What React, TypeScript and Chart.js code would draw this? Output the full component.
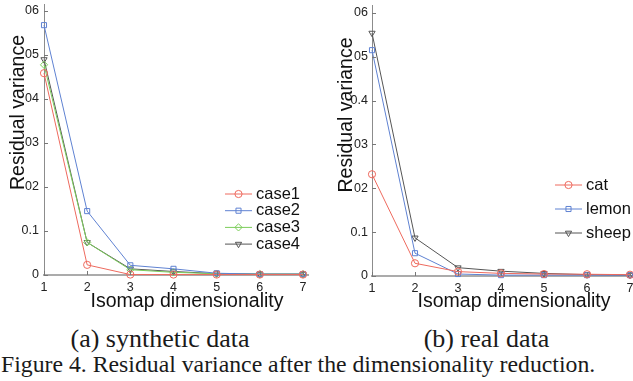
import React, { useEffect, useRef } from 'react';
import { Chart, registerables } from 'chart.js';
import { drawPoint } from 'chart.js/helpers';

Chart.register(...registerables);

// ---------- data ----------
const xValues = [1, 2, 3, 4, 5, 6, 7];
const xTickLabels = ['1', '2', '3', '4', '5', '6', '7'];
const yTickValues = [0, 0.1, 0.2, 0.3, 0.4, 0.5, 0.6];
const yTickLabelsA = ['0', '0.1', '02', '03', '04', '05', '06'];
const yTickLabelsB = ['0', '0.1', '02', '03', '0.4', '05', '06'];

const seriesNamesA = ['case1', 'case2', 'case3', 'case4'];
const case1 = [0.458, 0.023, 0.001, 0.001, 0.001, 0.001, 0.001];
const case2 = [0.567, 0.145, 0.022, 0.014, 0.004, 0.002, 0.002];
const case3 = [0.477, 0.074, 0.012, 0.006, 0.003, 0.002, 0.002];
const case4 = [0.489, 0.074, 0.014, 0.008, 0.003, 0.002, 0.002];

const seriesNamesB = ['cat', 'lemon', 'sheep'];
const cat = [0.232, 0.029, 0.01, 0.006, 0.0045, 0.004, 0.003];
const lemon = [0.515, 0.052, 0.0045, 0.002, 0.002, 0.002, 0.002];
const sheep = [0.554, 0.087, 0.019, 0.011, 0.006, 0.003, 0.002];

const xTitle = 'Isomap dimensionality';
const yTitle = 'Residual variance';
const captionA = '(a) synthetic data';
const captionB = '(b) real data';
const figureCaption = 'Figure 4. Residual variance after the dimensionality reduction.';

// ---------- styles ----------
const RED = '#ee6a5e';
const BLUE = '#5f82d2';
const GREEN = '#7ccd5a';
const DARK = '#555555';
const SANS = '"Liberation Sans", Arial, sans-serif';
const SERIF = '"Liberation Serif", "Times New Roman", serif';

type Style = { color: string; pointStyle: string; rotation: number };
const styleCircle = (c: string): Style => ({ color: c, pointStyle: 'circle', rotation: 0 });
const styleSquare = (c: string): Style => ({ color: c, pointStyle: 'rect', rotation: 0 });
const styleDiamond = (c: string): Style => ({ color: c, pointStyle: 'rectRot', rotation: 0 });
const styleTriDown = (c: string): Style => ({ color: c, pointStyle: 'triangle', rotation: 180 });

function makeDataset(label: string, values: number[], st: Style) {
  return {
    label,
    data: xValues.map((x, i) => ({ x, y: values[i] })),
    borderColor: st.color,
    backgroundColor: 'rgba(0,0,0,0)',
    borderWidth: 1,
    pointStyle: st.pointStyle,
    pointRotation: st.rotation,
    pointRadius: 3.6,
    pointBorderWidth: 1,
    pointBorderColor: st.color,
    pointBackgroundColor: 'rgba(0,0,0,0)',
    fill: false,
    tension: 0,
    clip: false,
  };
}

const decorPlugin = {
  id: 'figureDecor',
  afterDraw(chart: any, _args: any, opts: any) {
    const ctx: CanvasRenderingContext2D = chart.ctx;
    const xs = chart.scales.x;
    const ys = chart.scales.y;
    const area = chart.chartArea;
    ctx.save();
    // inward tick marks
    ctx.strokeStyle = opts.tickColor;
    ctx.lineWidth = 1;
    ys.ticks.forEach((t: any) => {
      const y = Math.round(ys.getPixelForValue(t.value)) + 0.5;
      ctx.beginPath();
      ctx.moveTo(area.left, y);
      ctx.lineTo(area.left + opts.tickLen, y);
      ctx.stroke();
    });
    xs.ticks.forEach((t: any) => {
      const x = Math.round(xs.getPixelForValue(t.value)) + 0.5;
      ctx.beginPath();
      ctx.moveTo(x, area.bottom);
      ctx.lineTo(x, area.bottom - opts.tickLen);
      ctx.stroke();
    });
    // axis titles
    ctx.fillStyle = opts.titleColor;
    ctx.font = `${opts.titleSize}px ${SANS}`;
    ctx.textAlign = 'center';
    ctx.textBaseline = 'alphabetic';
    ctx.fillText(opts.xTitleText, opts.xTitleX, opts.xTitleY);
    ctx.save();
    ctx.translate(opts.yTitleX, opts.yTitleY);
    ctx.rotate(-Math.PI / 2);
    ctx.fillText(opts.yTitleText, 0, 0);
    ctx.restore();
    // legend
    ctx.font = `${opts.legendSize}px ${SANS}`;
    ctx.textAlign = 'left';
    ctx.textBaseline = 'middle';
    chart.data.datasets.forEach((ds: any, i: number) => {
      const y = opts.legendY0 + i * opts.legendDy;
      const x0 = opts.legendX0;
      const x1 = x0 + opts.legendLineLen;
      ctx.strokeStyle = ds.borderColor;
      ctx.lineWidth = 1;
      ctx.beginPath();
      ctx.moveTo(x0, y);
      ctx.lineTo(x1, y);
      ctx.stroke();
      ctx.fillStyle = 'rgba(0,0,0,0)';
      drawPoint(ctx, { pointStyle: ds.pointStyle, rotation: ds.pointRotation, radius: ds.pointRadius, borderWidth: 1 } as any, (x0 + x1) / 2, y);
      ctx.fillStyle = opts.titleColor;
      ctx.fillText(ds.label, x1 + opts.legendGap, y);
    });
    ctx.restore();
  },
};

type Panel = {
  datasets: any[];
  yLabels: string[];
  yMax: number;
  xMax: number;
  yAxisWidth: number;
  yTickPad: number;
  padding: { top: number; right: number; bottom: number; left: number };
  decor: any;
};

function makeConfig(p: Panel): any {
  return {
    type: 'line',
    data: { datasets: p.datasets },
    plugins: [decorPlugin],
    options: {
      animation: false,
      responsive: false,
      events: [],
      layout: { padding: p.padding },
      plugins: {
        legend: { display: false },
        tooltip: { enabled: false },
        figureDecor: p.decor,
      },
      scales: {
        x: {
          type: 'linear',
          min: 1,
          max: p.xMax,
          afterBuildTicks: (s: any) => {
            s.ticks = xValues.map((v) => ({ value: v }));
          },
          afterFit: (s: any) => {
            s.height = 40;
          },
          grid: { display: false, drawTicks: false },
          border: { display: true, color: '#ababab', width: 2 },
          ticks: {
            autoSkip: false,
            maxRotation: 0,
            padding: 5,
            color: '#222',
            font: { family: SANS, size: 12.5 },
            callback: (_v: any, i: number) => xTickLabels[i],
          },
        },
        y: {
          type: 'linear',
          min: 0,
          max: p.yMax,
          afterBuildTicks: (s: any) => {
            s.ticks = yTickValues.map((v) => ({ value: v }));
          },
          afterFit: (s: any) => {
            s.width = p.yAxisWidth;
          },
          grid: { display: false, drawTicks: false },
          border: { display: true, color: '#8c8c8c', width: 1 },
          ticks: {
            padding: p.yTickPad,
            color: '#222',
            font: { family: SANS, size: 12.5 },
            callback: (_v: any, i: number) => p.yLabels[i],
          },
        },
      },
    },
  };
}

const panelA: Panel = {
  datasets: [
    makeDataset(seriesNamesA[0], case1, styleCircle(RED)),
    makeDataset(seriesNamesA[1], case2, styleSquare(BLUE)),
    makeDataset(seriesNamesA[2], case3, styleDiamond(GREEN)),
    makeDataset(seriesNamesA[3], case4, styleTriDown(DARK)),
  ],
  yLabels: yTickLabelsA,
  yMax: 0.615,
  xMax: 7.116,
  yAxisWidth: 44,
  yTickPad: 5,
  padding: { top: 14, right: 12, bottom: 0, left: 0 },
  decor: {
    tickColor: '#777',
    tickLen: 4,
    titleColor: '#111',
    titleSize: 19.5,
    xTitleText: xTitle,
    xTitleX: 187,
    xTitleY: 317,
    yTitleText: yTitle,
    yTitleX: 24,
    yTitleY: 122.5,
    legendSize: 16.5,
    legendX0: 225,
    legendLineLen: 27,
    legendGap: 4,
    legendY0: 204,
    legendDy: 16.7,
  },
};

const panelB: Panel = {
  datasets: [
    makeDataset(seriesNamesB[0], cat, styleCircle(RED)),
    makeDataset(seriesNamesB[1], lemon, styleSquare(BLUE)),
    makeDataset(seriesNamesB[2], sheep, styleTriDown(DARK)),
  ],
  yLabels: yTickLabelsB,
  yMax: 0.618,
  xMax: 7.15,
  yAxisWidth: 52,
  yTickPad: 4,
  padding: { top: 15, right: 13.55, bottom: 0, left: 0 },
  decor: {
    tickColor: '#777',
    tickLen: 4,
    titleColor: '#111',
    titleSize: 19.5,
    xTitleText: xTitle,
    xTitleX: 194,
    xTitleY: 317,
    yTitleText: yTitle,
    yTitleX: 32,
    yTitleY: 125,
    legendSize: 16.5,
    legendX0: 235,
    legendLineLen: 27,
    legendGap: 4,
    legendY0: 195,
    legendDy: 24,
  },
};

function ChartCanvas(props: { panel: Panel; left: number; top: number; width: number; height: number }) {
  const ref = useRef<HTMLCanvasElement | null>(null);
  useEffect(() => {
    if (!ref.current) return;
    const chart = new Chart(ref.current, makeConfig(props.panel));
    return () => chart.destroy();
  }, []);
  return (
    <canvas
      ref={ref}
      width={props.width}
      height={props.height}
      style={{ position: 'absolute', left: props.left, top: props.top, width: props.width, height: props.height }}
    />
  );
}

export default function App() {
  return (
    <div
      style={{
        position: 'absolute',
        left: 0,
        top: 0,
        width: 633,
        height: 381,
        overflow: 'hidden',
        background: '#fff',
      }}
    >
      <ChartCanvas panel={panelA} left={0} top={-10} width={320} height={325} />
      <ChartCanvas panel={panelB} left={320} top={-10} width={330} height={326} />
      <div
        style={{
          position: 'absolute',
          left: 0,
          top: 326,
          width: 320,
          textAlign: 'center',
          fontFamily: SERIF,
          fontSize: 26,
          lineHeight: 1,
          color: '#1a1a1a',
          whiteSpace: 'nowrap',
        }}
      >
        {captionA}
      </div>
      <div
        style={{
          position: 'absolute',
          left: 326.5,
          top: 326,
          width: 320,
          textAlign: 'center',
          fontFamily: SERIF,
          fontSize: 26,
          lineHeight: 1,
          color: '#1a1a1a',
          whiteSpace: 'nowrap',
        }}
      >
        {captionB}
      </div>
      <div
        style={{
          position: 'absolute',
          left: 1,
          top: 353,
          fontFamily: SERIF,
          fontSize: 23.75,
          lineHeight: 1,
          color: '#1a1a1a',
          whiteSpace: 'nowrap',
        }}
      >
        {figureCaption}
      </div>
    </div>
  );
}
